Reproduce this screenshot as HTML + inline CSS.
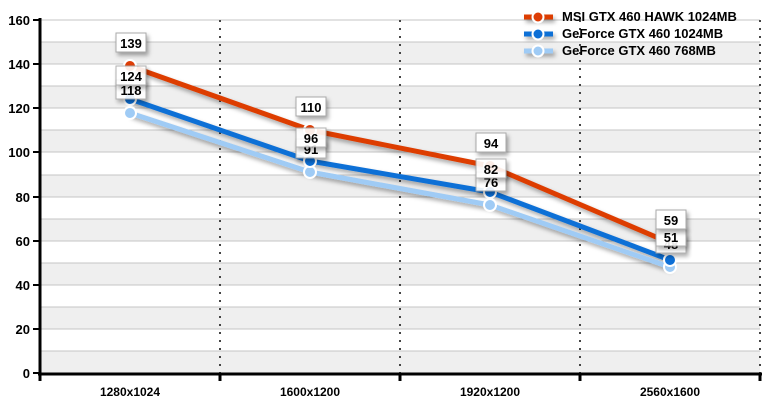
<!DOCTYPE html><html><head><style>body{margin:0;background:#fff}svg{display:block;font-family:"Liberation Sans",Arial,sans-serif;font-weight:bold}</style></head><body>
<svg width="770" height="405" viewBox="0 0 770 405">
<defs><filter id="sh" x="-10%" y="-10%" width="130%" height="150%"><feDropShadow dx="2" dy="3" stdDeviation="2" flood-color="#000" flood-opacity="0.35"/></filter></defs>
<g fill="#efefef">
<rect x="40" y="351" width="720" height="22"/><rect x="40" y="307" width="720" height="22"/><rect x="40" y="263" width="720" height="22"/><rect x="40" y="219" width="720" height="22"/><rect x="40" y="175" width="720" height="22"/><rect x="40" y="130" width="720" height="22"/><rect x="40" y="86" width="720" height="22"/><rect x="40" y="42" width="720" height="22"/>
</g>
<g stroke="#c4c4c4" stroke-width="1">
<line x1="40" x2="760" y1="20" y2="20"/><line x1="40" x2="760" y1="42" y2="42"/><line x1="40" x2="760" y1="64" y2="64"/><line x1="40" x2="760" y1="86" y2="86"/><line x1="40" x2="760" y1="108" y2="108"/><line x1="40" x2="760" y1="130" y2="130"/><line x1="40" x2="760" y1="152" y2="152"/><line x1="40" x2="760" y1="175" y2="175"/><line x1="40" x2="760" y1="197" y2="197"/><line x1="40" x2="760" y1="219" y2="219"/><line x1="40" x2="760" y1="241" y2="241"/><line x1="40" x2="760" y1="263" y2="263"/><line x1="40" x2="760" y1="285" y2="285"/><line x1="40" x2="760" y1="307" y2="307"/><line x1="40" x2="760" y1="329" y2="329"/><line x1="40" x2="760" y1="351" y2="351"/>
</g>
<g stroke="#444" stroke-width="2" stroke-dasharray="2,6">
<line x1="220" x2="220" y1="20" y2="373"/><line x1="400" x2="400" y1="20" y2="373"/><line x1="580" x2="580" y1="20" y2="373"/><line x1="760" x2="760" y1="20" y2="373"/>
</g>
<g stroke="#000" stroke-width="3">
<line x1="40" x2="40" y1="18" y2="375"/><line x1="38" x2="762" y1="374" y2="374"/>
<line x1="40" x2="40" y1="374" y2="381"/><line x1="220" x2="220" y1="374" y2="381"/><line x1="400" x2="400" y1="374" y2="381"/><line x1="580" x2="580" y1="374" y2="381"/><line x1="760" x2="760" y1="374" y2="381"/>
<g stroke-width="2"><line x1="33" x2="40" y1="20" y2="20"/><line x1="33" x2="40" y1="64" y2="64"/><line x1="33" x2="40" y1="108" y2="108"/><line x1="33" x2="40" y1="152" y2="152"/><line x1="33" x2="40" y1="197" y2="197"/><line x1="33" x2="40" y1="241" y2="241"/><line x1="33" x2="40" y1="285" y2="285"/><line x1="33" x2="40" y1="329" y2="329"/><line x1="33" x2="40" y1="373" y2="373"/></g>
</g>
<g font-size="13" text-anchor="end" fill="#000">
<text x="30" y="25">160</text><text x="30" y="69">140</text><text x="30" y="113">120</text><text x="30" y="157">100</text><text x="30" y="202">80</text><text x="30" y="246">60</text><text x="30" y="290">40</text><text x="30" y="334">20</text><text x="30" y="378">0</text>
</g>
<g font-size="12" text-anchor="middle"><text x="130" y="396">1280x1024</text><text x="310" y="396">1600x1200</text><text x="490" y="396">1920x1200</text><text x="670" y="396">2560x1600</text></g>
<g fill="none" stroke-width="5" stroke-linejoin="round" filter="url(#sh)">
<polyline stroke="#9fcbf5" points="130,113 310,172 490,205 670,267"/>
<polyline stroke="#0d6fd6" points="130,99 310,161 490,192 670,260"/>
<polyline stroke="#dd3d06" points="130,66 310,130 490,166 670,243"/>
</g>
<g stroke="#fff" stroke-width="2">
<circle cx="130" cy="113" r="6" fill="#9fcbf5"/><circle cx="310" cy="172" r="6" fill="#9fcbf5"/><circle cx="490" cy="205" r="6" fill="#9fcbf5"/><circle cx="670" cy="267" r="6" fill="#9fcbf5"/>
<circle cx="130" cy="99" r="6" fill="#0d6fd6"/><circle cx="310" cy="161" r="6" fill="#0d6fd6"/><circle cx="490" cy="192" r="6" fill="#0d6fd6"/><circle cx="670" cy="260" r="6" fill="#0d6fd6"/>
<circle cx="130" cy="66" r="6" fill="#dd3d06"/><circle cx="310" cy="130" r="6" fill="#dd3d06"/><circle cx="490" cy="166" r="6" fill="#dd3d06"/><circle cx="670" cy="243" r="6" fill="#dd3d06"/>
</g>
<g font-size="13" text-anchor="middle">
<g fill="#fff" stroke="#aaa" filter="url(#sh)" opacity="0.9">
<rect x="116" y="80" width="30" height="19"/><rect x="296" y="139" width="30" height="19"/><rect x="476" y="172" width="30" height="19"/><rect x="656" y="234" width="30" height="19"/>
</g><g fill="#000"><text x="131" y="95">118</text><text x="311" y="154">91</text><text x="491" y="187">76</text><text x="671" y="249">48</text></g>
<g fill="#fff" stroke="#aaa" filter="url(#sh)" opacity="0.9">
<rect x="116" y="66" width="30" height="19"/><rect x="296" y="128" width="30" height="19"/><rect x="476" y="159" width="30" height="19"/><rect x="656" y="227" width="30" height="19"/>
</g><g fill="#000"><text x="131" y="81">124</text><text x="311" y="143">96</text><text x="491" y="174">82</text><text x="671" y="242">51</text></g>
<g fill="#fff" stroke="#aaa" filter="url(#sh)">
<rect x="116" y="33" width="30" height="19"/><rect x="296" y="97" width="30" height="19"/><rect x="476" y="133" width="30" height="19"/><rect x="656" y="210" width="30" height="19"/>
</g><g fill="#000"><text x="131" y="48">139</text><text x="311" y="112">110</text><text x="491" y="148">94</text><text x="671" y="225">59</text></g>
</g>
<g font-size="13">
<g filter="url(#sh)" stroke-width="5">
<line x1="524" x2="553" y1="17" y2="17" stroke="#dd3d06"/><line x1="524" x2="553" y1="34" y2="34" stroke="#0d6fd6"/><line x1="524" x2="553" y1="51" y2="51" stroke="#9fcbf5"/>
</g>
<g stroke="#fff" stroke-width="2"><circle cx="538" cy="17" r="5.5" fill="#dd3d06"/><circle cx="538" cy="34" r="5.5" fill="#0d6fd6"/><circle cx="538" cy="51" r="5.5" fill="#9fcbf5"/></g>
<text x="562" y="21">MSI GTX 460 HAWK 1024MB</text><text x="562" y="38">GeForce GTX 460 1024MB</text><text x="562" y="55">GeForce GTX 460 768MB</text>
</g>
</svg></body></html>
